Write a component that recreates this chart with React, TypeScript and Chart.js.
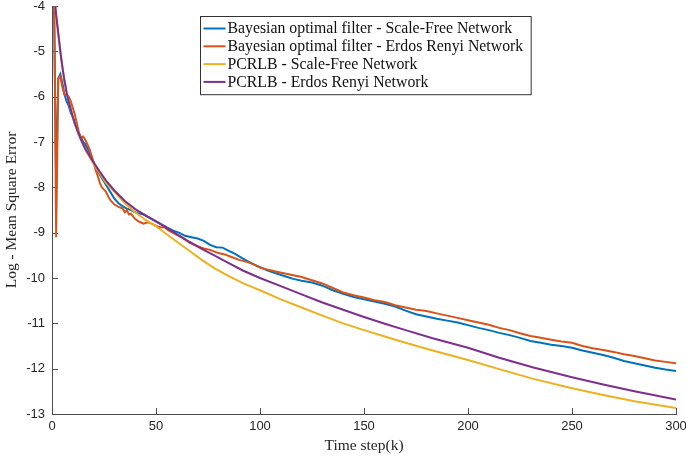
import React, { useEffect, useRef } from "react";
import { Chart, registerables } from "chart.js";

Chart.register(...registerables);

// ---- Data ----
const seriesLabels = [
  "Bayesian optimal filter - Scale-Free Network",
  "Bayesian optimal filter - Erdos Renyi Network",
  "PCRLB - Scale-Free Network",
  "PCRLB - Erdos Renyi Network",
];

const bofSfX = [1,2,3,4,5,6,7,8,9,10,11,12,13,14,15,16,18,20,22,24,26,28,30,32,34,36,38,40,42,44,46,48,50,52,55,58,61,64,67,70,73,76,79,82,85,88,91,94,97,100,104,108,112,116,120,125,130,135,140,145,150,155,160,165,170,175,180,185,190,195,200,205,210,215,220,225,230,235,240,245,250,255,260,265,270,275,280,285,290,295,300];
const bofSfY = [-4.0,-8.0,-5.6,-5.5,-5.7,-5.95,-6.1,-6.2,-6.35,-6.45,-6.6,-6.7,-6.85,-6.9,-7.0,-7.05,-7.22,-7.45,-7.65,-7.8,-7.95,-8.1,-8.25,-8.35,-8.42,-8.47,-8.5,-8.55,-8.58,-8.6,-8.65,-8.7,-8.75,-8.8,-8.88,-8.95,-9.0,-9.07,-9.1,-9.13,-9.18,-9.27,-9.32,-9.33,-9.4,-9.47,-9.55,-9.63,-9.7,-9.76,-9.84,-9.9,-9.96,-10.02,-10.06,-10.1,-10.17,-10.27,-10.35,-10.42,-10.47,-10.52,-10.57,-10.63,-10.72,-10.8,-10.85,-10.9,-10.94,-10.98,-11.04,-11.1,-11.15,-11.21,-11.26,-11.32,-11.39,-11.43,-11.47,-11.5,-11.54,-11.6,-11.65,-11.7,-11.76,-11.83,-11.88,-11.93,-11.98,-12.02,-12.05];

const bofErX = [1,2,3,4,5,6,7,8,9,10,11,12,13,14,15,16,17,18,19,20,21,22,23,24,25,26,27,28,30,32,34,35,36,37,38,40,42,44,46,48,50,52,54,56,58,60,63,66,70,73,76,80,83,86,90,94,97,100,104,108,112,116,120,125,130,135,140,145,150,155,160,165,170,175,180,185,190,195,200,205,210,215,220,225,230,235,240,245,250,255,260,265,270,275,280,285,290,295,300];
const bofErY = [-3.6,-9.1,-5.6,-5.55,-5.8,-5.95,-5.95,-6.0,-6.1,-6.25,-6.4,-6.6,-6.8,-6.9,-6.88,-6.95,-7.05,-7.15,-7.3,-7.45,-7.62,-7.75,-7.9,-8.0,-8.05,-8.1,-8.2,-8.28,-8.38,-8.43,-8.47,-8.55,-8.5,-8.6,-8.58,-8.7,-8.76,-8.8,-8.77,-8.8,-8.85,-8.88,-8.88,-8.95,-9.0,-9.05,-9.12,-9.22,-9.3,-9.35,-9.38,-9.45,-9.48,-9.53,-9.6,-9.65,-9.7,-9.77,-9.82,-9.86,-9.9,-9.94,-9.98,-10.05,-10.12,-10.22,-10.32,-10.38,-10.43,-10.49,-10.53,-10.6,-10.65,-10.7,-10.73,-10.78,-10.83,-10.88,-10.93,-10.98,-11.03,-11.1,-11.15,-11.22,-11.28,-11.32,-11.36,-11.4,-11.43,-11.5,-11.55,-11.59,-11.63,-11.68,-11.72,-11.77,-11.82,-11.85,-11.88];

const pcrlbSfX = [1,2,3,4,5,6,7,8,10,12,14,16,18,20,23,26,30,35,40,45,50,55,60,66,72,78,85,92,100,110,120,130,140,150,160,170,183,200,215,231,250,265,280,300];
const pcrlbSfY = [-3.7,-4.2,-4.6,-5.0,-5.35,-5.65,-5.9,-6.1,-6.45,-6.73,-6.97,-7.17,-7.33,-7.48,-7.7,-7.9,-8.1,-8.35,-8.55,-8.72,-8.86,-9.03,-9.2,-9.4,-9.6,-9.78,-9.96,-10.12,-10.27,-10.47,-10.65,-10.83,-11.0,-11.15,-11.29,-11.43,-11.6,-11.81,-12.01,-12.22,-12.43,-12.58,-12.72,-12.87];

const pcrlbErX = [1,2,3,4,5,6,7,8,10,12,14,16,18,20,23,26,30,35,40,45,50,55,60,66,72,78,85,92,100,110,120,130,140,150,160,170,183,200,215,231,250,265,280,300];
const pcrlbErY = [-3.7,-4.2,-4.6,-5.0,-5.35,-5.65,-5.9,-6.1,-6.45,-6.72,-6.95,-7.15,-7.3,-7.45,-7.66,-7.85,-8.07,-8.3,-8.48,-8.62,-8.75,-8.89,-9.03,-9.2,-9.36,-9.5,-9.67,-9.84,-10.0,-10.18,-10.36,-10.54,-10.7,-10.86,-11.01,-11.15,-11.33,-11.54,-11.76,-11.97,-12.19,-12.35,-12.5,-12.68];

const xTickValues = [0, 50, 100, 150, 200, 250, 300];
const yTickValues = [-13, -12, -11, -10, -9, -8, -7, -6, -5, -4];

const colors = ["#0072BD", "#D95319", "#EDB120", "#7E2F8E"];
const axisColor = "#4d4d4d";
const tickTextColor = "#262626";

const toPoints = (xs: number[], ys: number[]) => xs.map((x, i) => ({ x, y: ys[i] }));

const inwardTicks = {
  id: "inwardTicks",
  beforeDatasetsDraw(chart: any) {
    const { ctx, chartArea, scales } = chart;
    ctx.save();
    ctx.strokeStyle = axisColor;
    ctx.lineWidth = 1;
    ctx.beginPath();
    xTickValues.forEach((v) => {
      const px = Math.round(scales.x.getPixelForValue(v)) + 0.5;
      ctx.moveTo(px, chartArea.bottom);
      ctx.lineTo(px, chartArea.bottom - 6);
    });
    yTickValues.forEach((v) => {
      const py = Math.round(scales.y.getPixelForValue(v)) + 0.5;
      ctx.moveTo(chartArea.left, py);
      ctx.lineTo(chartArea.left + 6, py);
    });
    ctx.stroke();
    ctx.restore();
  },
};

const boxLegend = {
  id: "boxLegend",
  afterDraw(chart: any) {
    const { ctx } = chart;
    const left = 200.5;
    const top = 16.5;
    const rowH = 17.8;
    ctx.save();
    ctx.font = "15.8px 'Liberation Serif', 'Times New Roman', serif";
    const ds = chart.data.datasets;
    let maxW = 0;
    ds.forEach((d: any) => {
      maxW = Math.max(maxW, ctx.measureText(d.label).width);
    });
    const width = 27 + maxW + 8;
    const height = rowH * ds.length + 7;
    ctx.fillStyle = "#ffffff";
    ctx.fillRect(left, top, width, height);
    ctx.strokeStyle = "#333333";
    ctx.lineWidth = 1;
    ctx.strokeRect(left, top, width, height);
    ds.forEach((d: any, i: number) => {
      const cy = top + 12 + i * rowH;
      ctx.strokeStyle = d.borderColor;
      ctx.lineWidth = 2;
      ctx.beginPath();
      ctx.moveTo(left + 3, cy);
      ctx.lineTo(left + 25, cy);
      ctx.stroke();
      ctx.fillStyle = "#111111";
      ctx.textBaseline = "middle";
      ctx.textAlign = "left";
      ctx.fillText(d.label, left + 27, cy + 0.5);
    });
    ctx.restore();
  },
};

export default function App() {
  const canvasRef = useRef<HTMLCanvasElement | null>(null);

  useEffect(() => {
    document.body.style.margin = "0";
    const canvas = canvasRef.current;
    if (!canvas) return;
    const xs = [bofSfX, bofErX, pcrlbSfX, pcrlbErX];
    const ys = [bofSfY, bofErY, pcrlbSfY, pcrlbErY];
    const orders = [4, 3, 2, 1];
    const chart = new Chart(canvas, {
      type: "line",
      data: {
        datasets: seriesLabels.map((label, i) => ({
          label,
          data: toPoints(xs[i], ys[i]),
          borderColor: colors[i],
          backgroundColor: colors[i],
          borderWidth: 2,
          pointRadius: 0,
          tension: 0,
          fill: false,
          order: orders[i],
        })),
      },
      options: {
        responsive: false,
        animation: false,
        events: [],
        layout: { padding: { left: 0, right: 10, top: 6, bottom: 0 } },
        plugins: {
          legend: { display: false },
          tooltip: { enabled: false },
        },
        scales: {
          x: {
            type: "linear",
            min: 0,
            max: 300,
            afterBuildTicks: (s: any) => {
              s.ticks = xTickValues.map((v) => ({ value: v }));
            },
            afterFit: (s: any) => {
              s.height = 45;
              s.paddingLeft = 0;
              s.paddingRight = 0;
            },
            grid: { display: false, drawTicks: false },
            border: { display: true, color: axisColor, width: 1 },
            ticks: {
              color: tickTextColor,
              padding: 5,
              maxRotation: 0,
              autoSkip: false,
              font: { family: "'Liberation Sans', Arial, sans-serif", size: 13 },
            },
            title: {
              display: true,
              text: "Time step(k)",
              color: "#262626",
              padding: { top: 0, bottom: 4 },
              font: { family: "'Liberation Serif', 'Times New Roman', serif", size: 15.5 },
            },
          },
          y: {
            type: "linear",
            min: -13,
            max: -4,
            afterBuildTicks: (s: any) => {
              s.ticks = yTickValues.map((v) => ({ value: v }));
            },
            afterFit: (s: any) => {
              s.width = 52;
              s.paddingTop = 0;
              s.paddingBottom = 0;
            },
            grid: { display: false, drawTicks: false },
            border: { display: true, color: axisColor, width: 1 },
            ticks: {
              color: tickTextColor,
              padding: 7,
              autoSkip: false,
              font: { family: "'Liberation Sans', Arial, sans-serif", size: 13 },
            },
            title: {
              display: true,
              text: "Log - Mean Square Error",
              color: "#262626",
              padding: { top: 3, bottom: 0 },
              font: { family: "'Liberation Serif', 'Times New Roman', serif", size: 15.5 },
            },
          },
        },
      },
      plugins: [inwardTicks, boxLegend],
    });
    return () => chart.destroy();
  }, []);

  return (
    <div style={{ width: 686, height: 459, background: "#ffffff" }}>
      <canvas ref={canvasRef} width={686} height={459} />
    </div>
  );
}
